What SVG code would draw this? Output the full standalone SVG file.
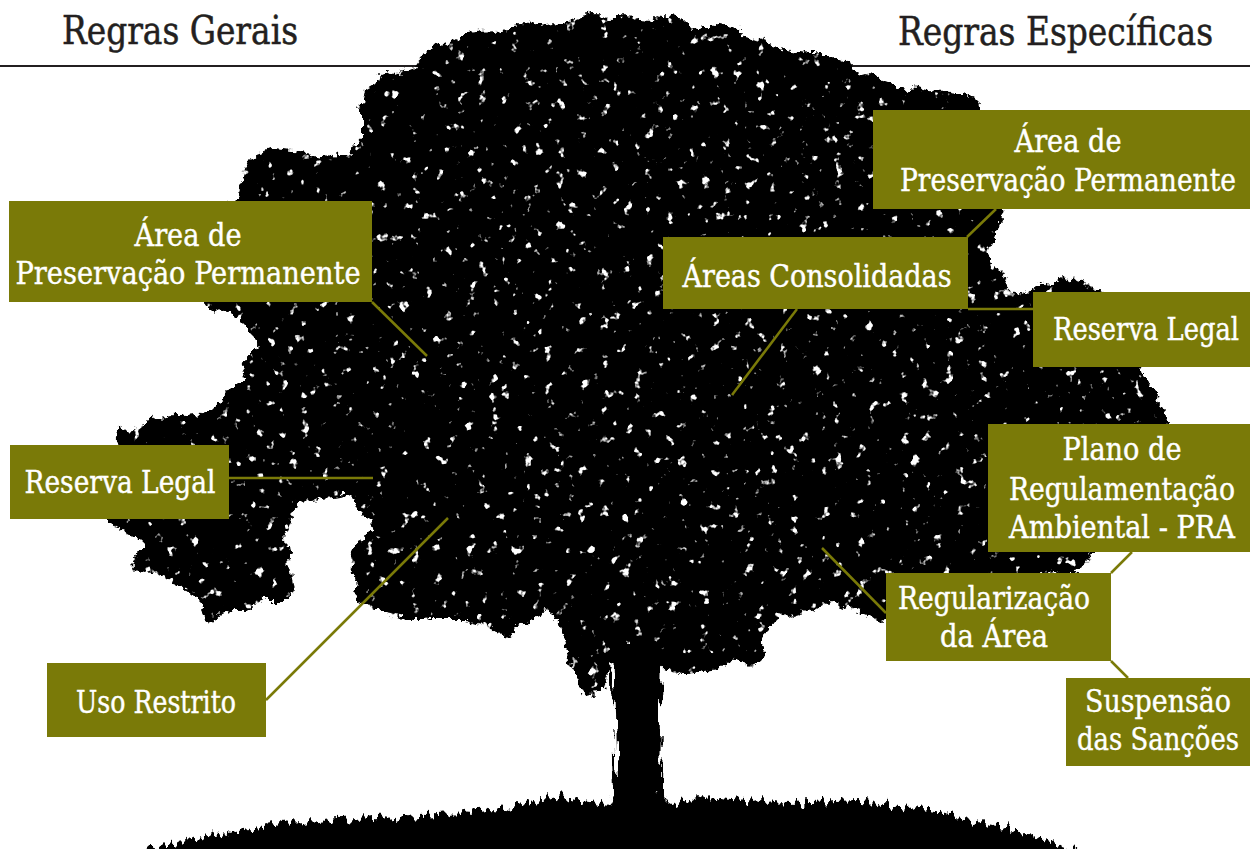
<svg xmlns="http://www.w3.org/2000/svg" width="1250" height="849" viewBox="0 0 1250 849">
<defs>
<style>
.box{fill:#7a7a08}
.lbl{fill:#ffffff;stroke:#ffffff;stroke-width:0.4;font-family:"DejaVu Serif","Liberation Serif",serif;font-stretch:condensed;font-size:31px;text-anchor:middle}
.hdr{fill:#231f20;stroke:#231f20;stroke-width:0.5;font-family:"DejaVu Serif","Liberation Serif",serif;font-stretch:condensed;font-size:39px}
.con{stroke:#7a7a08;stroke-width:2.5;fill:none}
</style>
<filter id="foliage" filterUnits="userSpaceOnUse" x="0" y="0" width="1250" height="849" color-interpolation-filters="sRGB">
<feTurbulence type="fractalNoise" baseFrequency="0.035" numOctaves="2" seed="4" result="t1"/>
<feDisplacementMap in="SourceGraphic" in2="t1" scale="22" xChannelSelector="R" yChannelSelector="G" result="r1"/>
<feTurbulence type="fractalNoise" baseFrequency="0.18" numOctaves="2" seed="11" result="t3"/>
<feDisplacementMap in="r1" in2="t3" scale="10" xChannelSelector="R" yChannelSelector="G" result="rough"/>
<feTurbulence type="fractalNoise" baseFrequency="0.09" numOctaves="3" seed="9" result="t2"/>
<feColorMatrix in="t2" type="matrix" values="0 0 0 0 0  0 0 0 0 0  0 0 0 0 0  11 0 0 0 -7.4" result="holes"/>
<feComposite in="rough" in2="holes" operator="out"/>
</filter>
<filter id="grass" filterUnits="userSpaceOnUse" x="0" y="600" width="1250" height="249" color-interpolation-filters="sRGB">
<feTurbulence type="fractalNoise" baseFrequency="0.2 0.03" numOctaves="3" seed="2" result="g"/>
<feDisplacementMap in="SourceGraphic" in2="g" scale="20" xChannelSelector="R" yChannelSelector="G"/>
</filter>
</defs>
<rect x="0" y="0" width="1250" height="849" fill="#ffffff"/>
<g id="header">
<line x1="0" y1="66" x2="534" y2="66" stroke="#231f20" stroke-width="2"/>
<line x1="830" y1="66" x2="1250" y2="66" stroke="#231f20" stroke-width="2"/>
<text class="hdr" x="62" y="44" textLength="236" lengthAdjust="spacingAndGlyphs">Regras Gerais</text>
<text class="hdr" x="898" y="45" textLength="315" lengthAdjust="spacingAndGlyphs">Regras Específicas</text>
</g>
<g id="tree">
<g filter="url(#foliage)">
<path fill="#000" d="M412,67 L424,53 L450,43 L466,33 L529,25 L592,15 L635,17 L677,20 L719,27 L761,37 L795,50 L832,57 L866,73 L908,87 L963,95 L975,107 L990,160 L1003,215 L987,250 L1007,283 L1030,297 L1060,277 L1107,290 L1130,330 L1147,387 L1167,420 L1160,440 L1120,510 L1080,570 L1000,580 L930,600 L885,623 L860,612 L830,600 L802,617 L767,627 L760,660 L682,673 L660,660 L616,660 L605,690 L584,693 L563,647 L549,610 L507,633 L465,620 L413,620 L380,613 L357,597 L350,560 L370,522 L345,497 L300,505 L285,540 L293,600 L267,600 L240,610 L213,623 L203,603 L177,583 L130,567 L147,543 L110,523 L110,480 L117,437 L120,427 L197,417 L227,390 L260,343 L230,313 L207,302 L215,250 L230,203 L240,193 L250,160 L283,147 L353,157 L361,140 L361,110 L365,90 L382,80 Z"/>
</g>
<g filter="url(#grass)">
<path fill="#000" d="M612,640 L662,640 L660,790 L668,805 L703,797 L788,803 L858,800 L942,813 L1005,827 L1068,847 L1080,860 L140,860 L149,849 L205,837 L282,823 L395,817 L493,810 L556,797 L609,805 L616,790 Z"/>
</g>
</g>
<g id="connectors">
<line class="con" x1="372" y1="302" x2="427" y2="356"/>
<line class="con" x1="229" y1="478" x2="373" y2="478"/>
<line class="con" x1="266" y1="700" x2="448" y2="518"/>
<line class="con" x1="797" y1="309" x2="732" y2="395"/>
<line class="con" x1="996" y1="209" x2="967" y2="237"/>
<line class="con" x1="968" y1="309" x2="1033" y2="309"/>
<line class="con" x1="1132" y1="552" x2="1111" y2="573"/>
<line class="con" x1="1111" y1="661" x2="1128" y2="678"/>
<line class="con" x1="886" y1="613" x2="822" y2="548"/>
</g>
<g id="node-app-geral">
<rect class="box" x="9" y="201" width="363" height="101"/>
<text class="lbl" x="188" y="246" textLength="107" lengthAdjust="spacingAndGlyphs">Área de</text>
<text class="lbl" x="188" y="284" textLength="345" lengthAdjust="spacingAndGlyphs">Preservação Permanente</text>
</g>
<g id="node-rl-geral">
<rect class="box" x="10" y="445" width="219" height="74"/>
<text class="lbl" x="120" y="493" textLength="191" lengthAdjust="spacingAndGlyphs">Reserva Legal</text>
</g>
<g id="node-uso-restrito">
<rect class="box" x="47" y="663" width="219" height="74"/>
<text class="lbl" x="156" y="713" textLength="160" lengthAdjust="spacingAndGlyphs">Uso Restrito</text>
</g>
<g id="node-areas-consolidadas">
<rect class="box" x="663" y="237" width="305" height="72"/>
<text class="lbl" x="817" y="287" textLength="269" lengthAdjust="spacingAndGlyphs">Áreas Consolidadas</text>
</g>
<g id="node-app-especifica">
<rect class="box" x="873" y="110" width="377" height="99"/>
<text class="lbl" x="1068" y="152" textLength="107" lengthAdjust="spacingAndGlyphs">Área de</text>
<text class="lbl" x="1068" y="191" textLength="336" lengthAdjust="spacingAndGlyphs">Preservação Permanente</text>
</g>
<g id="node-rl-especifica">
<rect class="box" x="1033" y="292" width="217" height="75"/>
<text class="lbl" x="1146" y="340" textLength="186" lengthAdjust="spacingAndGlyphs">Reserva Legal</text>
</g>
<g id="node-pra">
<rect class="box" x="988" y="424" width="262" height="128"/>
<text class="lbl" x="1122" y="460" textLength="119" lengthAdjust="spacingAndGlyphs">Plano de</text>
<text class="lbl" x="1122" y="500" textLength="226" lengthAdjust="spacingAndGlyphs">Regulamentação</text>
<text class="lbl" x="1122" y="538" textLength="226" lengthAdjust="spacingAndGlyphs">Ambiental - PRA</text>
</g>
<g id="node-regularizacao">
<rect class="box" x="886" y="573" width="225" height="88"/>
<text class="lbl" x="994" y="609" textLength="192" lengthAdjust="spacingAndGlyphs">Regularização</text>
<text class="lbl" x="994" y="647" textLength="108" lengthAdjust="spacingAndGlyphs">da Área</text>
</g>
<g id="node-suspensao">
<rect class="box" x="1066" y="678" width="184" height="88"/>
<text class="lbl" x="1158" y="712" textLength="146" lengthAdjust="spacingAndGlyphs">Suspensão</text>
<text class="lbl" x="1158" y="750" textLength="162" lengthAdjust="spacingAndGlyphs">das Sanções</text>
</g>
</svg>
